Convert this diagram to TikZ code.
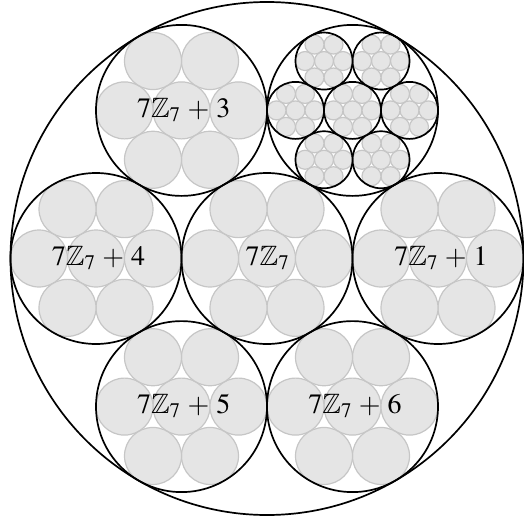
\documentclass[tikz,border=0pt]{standalone}
\usepackage{mathptmx}
\usepackage{amssymb}
\definecolor{cfill}{RGB}{229,229,229}
\definecolor{cstroke}{RGB}{198,198,198}
\tikzset{
  grayc/.style={fill=cfill, draw=cstroke, line width=1.2pt},
  blackc/.style={draw=black, line width=1.7pt},
  lab/.style={font=\fontsize{28}{30}\selectfont, inner sep=0pt}
}
\newcommand\lbl[1]{$\medmuskip=4.5mu\relax #1$}
\newcommand\sevenc[4]{%
  \foreach \dx/\dy in {0/0,2/0,-2/0,1/1.7320508,-1/1.7320508,1/-1.7320508,-1/-1.7320508}
    \draw[#4] ({#1+\dx*#3},{#2+\dy*#3}) circle[radius=#3];
}
\begin{document}
\begin{tikzpicture}[x=1pt,y=-1pt]
\useasboundingbox (0,0) rectangle (524,527);
\def\r{85.5}
\def\s{28.5}
\def\t{9.5}
% plain clusters of gray circles
\foreach \cx/\cy in {267/258.5, 438/258.5, 96/258.5, 181.5/110.4, 181.5/406.6, 352.5/406.6}{
  \sevenc{\cx}{\cy}{\s}{grayc}
}
% nested cluster (top right)
\foreach \dx/\dy in {0/0,2/0,-2/0,1/1.7320508,-1/1.7320508,1/-1.7320508,-1/-1.7320508}{
  \pgfmathsetmacro\ux{352.5+\dx*\s}
  \pgfmathsetmacro\uy{110.4+\dy*\s}
  \sevenc{\ux}{\uy}{\t}{grayc}
  \draw[blackc] (\ux,\uy) circle[radius=\s];
}
% medium circles
\foreach \cx/\cy in {267/258.5, 438/258.5, 96/258.5, 181.5/110.4, 352.5/110.4, 181.5/406.6, 352.5/406.6}{
  \draw[blackc] (\cx,\cy) circle[radius=\r];
}
% outer circle
\draw[blackc] (267,258.5) circle[radius=256.5];
% labels
\node[lab] (l0) at (267.5,258) {\lbl{7\mathbb{Z}_7}};
\node[lab] (l1) at (441,258) {\lbl{7\mathbb{Z}_7+1}};
\node[lab] (l3) at (183.7,109.8) {\lbl{7\mathbb{Z}_7+3}};
\node[lab] (l4) at (98.5,258) {\lbl{7\mathbb{Z}_7+4}};
\node[lab] (l5) at (183.7,406) {\lbl{7\mathbb{Z}_7+5}};
\node[lab] (l6) at (355,406) {\lbl{7\mathbb{Z}_7+6}};
\end{tikzpicture}
\end{document}
